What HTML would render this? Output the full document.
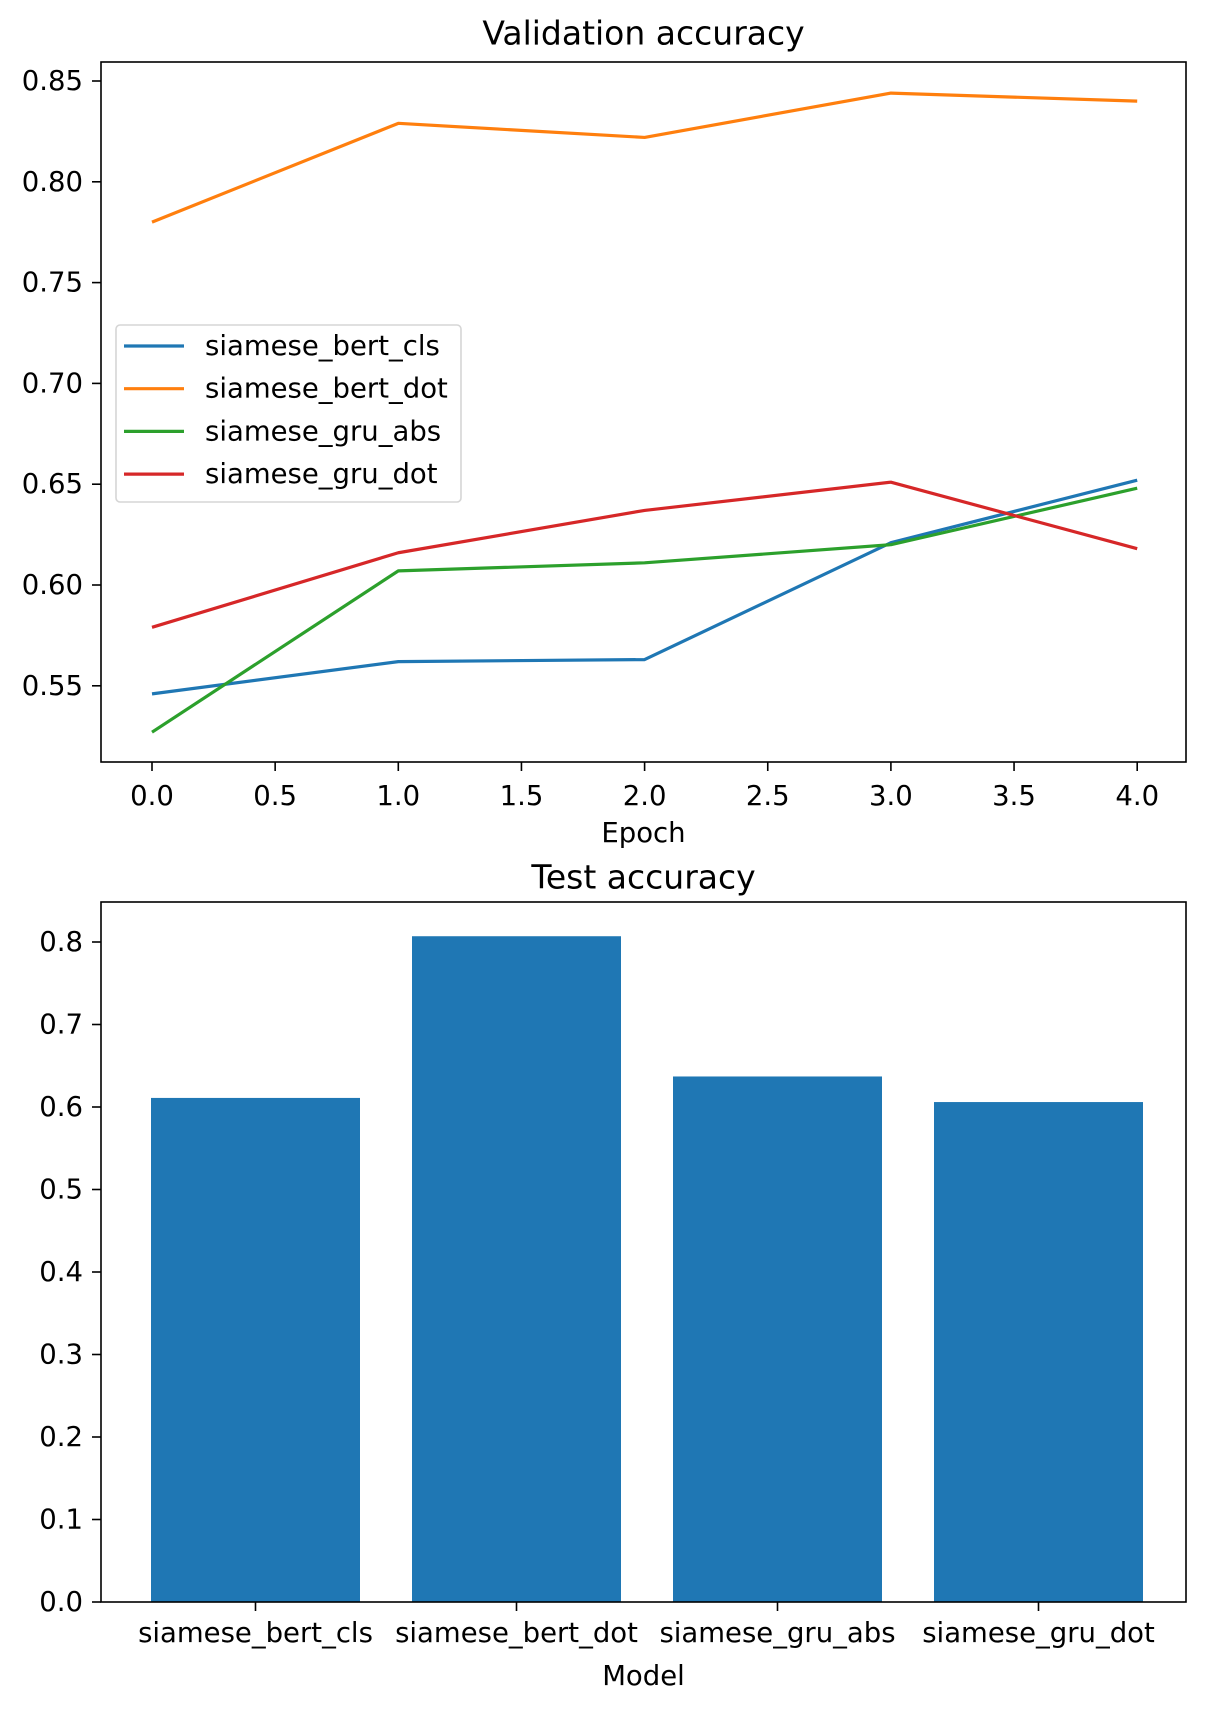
<!DOCTYPE html>
<html><head><meta charset="utf-8"><style>
body{margin:0;background:#fff}
svg{display:block;font-family:"DejaVu Sans","Liberation Sans",sans-serif}
</style></head><body>
<svg id="fig" width="1206" height="1710" viewBox="0 0 1206 1710"></svg>
<script>
const epochs=[0,1,2,3,4];
const seriesNames=["siamese_bert_cls","siamese_bert_dot","siamese_gru_abs","siamese_gru_dot"];
const bertCls=[0.546,0.562,0.563,0.621,0.652];
const bertDot=[0.780,0.829,0.822,0.844,0.840];
const gruAbs=[0.527,0.607,0.611,0.620,0.648];
const gruDot=[0.579,0.616,0.637,0.651,0.618];
const colors=["#1f77b4","#ff7f0e","#2ca02c","#d62728"];
const xTicks=[0,0.5,1,1.5,2,2.5,3,3.5,4];
const yTicks1=[0.55,0.60,0.65,0.70,0.75,0.80,0.85];
const models=["siamese_bert_cls","siamese_bert_dot","siamese_gru_abs","siamese_gru_dot"];
const testAcc=[0.611,0.807,0.637,0.606];
const yTicks2=[0,0.1,0.2,0.3,0.4,0.5,0.6,0.7,0.8];

const NS="http://www.w3.org/2000/svg";
const svg=document.getElementById('fig');
function mk(tag,attrs,parent,name,inter){const e=document.createElementNS(NS,tag);for(const k in attrs)e.setAttribute(k,attrs[k]);


(parent||svg).appendChild(e);return e;}
function txt(x,y,s,size,anchor,name){const t=mk('text',{x:x,y:y,'font-size':size,'text-anchor':anchor||'middle',fill:'#000','dominant-baseline':'central'},svg,name,false);t.textContent=s;return t;}
const FS=27.5, TS=33;

// Top chart
const L1=101,R1=1186,T1=62,B1=762;
const x1=v=>152+v*246.3;
const y1=v=>81+(0.85-v)/0.05*100.8;
txt((L1+R1)/2,33,"Validation accuracy",TS,'middle','top-chart-title');
yTicks1.forEach(v=>{const y=y1(v);
mk('line',{x1:L1-9,x2:L1,y1:y,y2:y,stroke:'#000','stroke-width':1.6},svg,'y-tick',false);
txt(L1-18,y,v.toFixed(2),FS,'end','y-tick-label');});
xTicks.forEach(v=>{const x=x1(v);
mk('line',{x1:x,x2:x,y1:B1,y2:B1+9,stroke:'#000','stroke-width':1.6},svg,'x-tick',false);
txt(x,B1+34,v.toFixed(1),FS,'middle','x-tick-label');});
txt((L1+R1)/2,833,"Epoch",FS,'middle','x-axis-title');
const allSeries=[bertCls,bertDot,gruAbs,gruDot];
allSeries.forEach((s,i)=>{
mk('polyline',{points:s.map((v,j)=>x1(epochs[j])+','+y1(v)).join(' '),fill:'none',stroke:colors[i],'stroke-width':3.2,'stroke-linejoin':'round'},svg,'line-'+seriesNames[i],false);});
mk('rect',{x:L1,y:T1,width:R1-L1,height:B1-T1,fill:'none',stroke:'#000','stroke-width':1.6},svg,'top-plot-frame',false);
// legend
const lg=mk('g',{},svg,'legend',false);
mk('rect',{x:116,y:325,width:345,height:177,rx:4,fill:'#fff','fill-opacity':0.8,stroke:'#d5d5d5','stroke-width':1.6},lg,'legend-box',false);
seriesNames.forEach((n,i)=>{const y=346+i*42.7;
mk('line',{x1:124,x2:184,y1:y,y2:y,stroke:colors[i],'stroke-width':3.2},lg,'legend-swatch',false);
const t=mk('text',{x:205,y:y,'font-size':FS,'dominant-baseline':'central',fill:'#000'},lg,'legend-entry',false);t.textContent=n;});

// Bottom chart
const L2=101,R2=1186,T2=902,B2=1602;
const x2=i=>255.5+i*261;
const y2=v=>1602-v*825;
txt((L2+R2)/2,877,"Test accuracy",TS,'middle','bottom-chart-title');
yTicks2.forEach(v=>{const y=y2(v);
mk('line',{x1:L2-9,x2:L2,y1:y,y2:y,stroke:'#000','stroke-width':1.6},svg,'y-tick',false);
txt(L2-18,y,v.toFixed(1),FS,'end','y-tick-label');});
models.forEach((m,i)=>{
mk('rect',{x:x2(i)-104.5,y:y2(testAcc[i]),width:209,height:y2(0)-y2(testAcc[i]),fill:'#1f77b4'},svg,'bar-'+m,false);
mk('line',{x1:x2(i),x2:x2(i),y1:B2,y2:B2+9,stroke:'#000','stroke-width':1.6},svg,'x-tick',false);
txt(x2(i),1633,m,FS,'middle','x-tick-label');});
mk('rect',{x:L2,y:T2,width:R2-L2,height:B2-T2,fill:'none',stroke:'#000','stroke-width':1.6},svg,'bottom-plot-frame',false);
txt((L2+R2)/2,1676,"Model",FS,'middle','x-axis-title');
</script>
</body></html>
